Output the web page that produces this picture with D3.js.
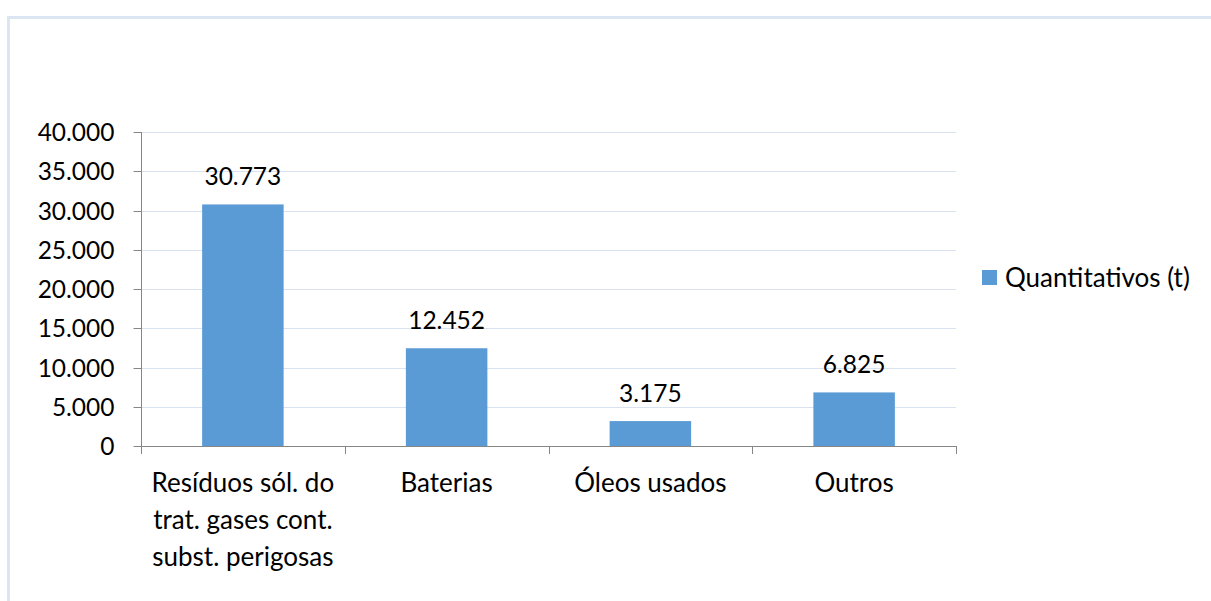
<!DOCTYPE html>
<html><head><meta charset="utf-8">
<script src="https://cdn.jsdelivr.net/npm/d3@7"></script>
<style>body{margin:0;background:#fff;} svg{display:block;font-family:Lato,"Open Sans",sans-serif;}</style>
</head><body>
<svg id="c" width="1211" height="601"></svg>
<script>
const categories = [["Resíduos sól. do","trat. gases cont.","subst. perigosas"],["Baterias"],["Óleos usados"],["Outros"]];
const values = [30773, 12452, 3175, 6825];
const valueLabels = ["30.773","12.452","3.175","6.825"];
const yTicks = [0,5000,10000,15000,20000,25000,30000,35000,40000];
const seriesName = "Quantitativos (t)";

const svg = d3.select("#c");
const numSize = 24.5, txtSize = 26;
svg.append("rect").attr("x",8.5).attr("y",17.5).attr("width",1230).attr("height",620)
  .attr("fill","#fff").attr("stroke","#dce6f2").attr("stroke-width",3);

const L=141, R=956, T=132, B=446;
const x = d3.scaleBand().domain(d3.range(categories.length)).range([L,R]).paddingInner(0.6).paddingOuter(0.3);
const y = d3.scaleLinear().domain([0,40000]).range([B,T]);
const fmt = d => d===0 ? "0" : d3.format(",")(d).replace(/,/g,".");

// gridlines
svg.append("g").selectAll("line").data(yTicks.filter(d=>d>0)).join("line")
  .attr("x1",L).attr("x2",R).attr("y1",d=>Math.round(y(d))+0.5).attr("y2",d=>Math.round(y(d))+0.5)
  .attr("stroke","#d9e2f1").attr("stroke-width",1);

// bars
svg.append("g").selectAll("rect").data(values).join("rect")
  .attr("x",(d,i)=>x(i)).attr("width",x.bandwidth())
  .attr("y",d=>y(d)).attr("height",d=>B-y(d)).attr("fill","#5b9bd5");

// y axis
const yAxis = d3.axisLeft(y).tickValues(yTicks).tickSize(8).tickPadding(19).tickFormat(fmt);
const gy = svg.append("g").attr("transform",`translate(${L+0.5},0)`).call(yAxis);
gy.select(".domain").attr("stroke","#868686").attr("d",`M0,${T}V${B}`);
gy.selectAll(".tick line").attr("stroke","#868686");
gy.selectAll(".tick").attr("transform",d=>`translate(0,${Math.round(y(d))+0.5})`);
gy.selectAll("text").attr("font-size",numSize).attr("fill","#000").attr("font-family","Lato").attr("dy","0.36em");

// x axis
const bounds = d3.range(categories.length+1).map(i=>L + i*(R-L)/categories.length);
const gx = svg.append("g");
gx.append("line").attr("x1",L).attr("x2",R).attr("y1",B+0.5).attr("y2",B+0.5).attr("stroke","#868686");
gx.selectAll("line.t").data(bounds).join("line").attr("class","t")
  .attr("x1",d=>Math.round(d)+0.5).attr("x2",d=>Math.round(d)+0.5).attr("y1",B).attr("y2",B+8).attr("stroke","#868686");
const xt = gx.selectAll("text").data(categories).join("text")
  .attr("text-anchor","middle").attr("font-size",txtSize)
  .attr("x",(d,i)=>x(i)+x.bandwidth()/2).attr("y",492);
xt.selectAll("tspan").data(d=>d).join("tspan")
  .attr("x",function(){return this.parentNode.getAttribute("x");})
  .attr("dy",(d,i)=>i===0?0:37).text(d=>d);

// data labels
svg.append("g").selectAll("text").data(values).join("text")
  .attr("text-anchor","middle").attr("font-size",numSize)
  .attr("x",(d,i)=>x(i)+x.bandwidth()/2).attr("y",d=>y(d)-19).text((d,i)=>valueLabels[i]);

// legend
const lg = svg.append("g");
lg.append("rect").attr("x",982).attr("y",270).attr("width",15).attr("height",15).attr("fill","#5b9bd5");
lg.append("text").attr("x",1005).attr("y",287).attr("font-size",txtSize).text(seriesName);
</script>
</body></html>
